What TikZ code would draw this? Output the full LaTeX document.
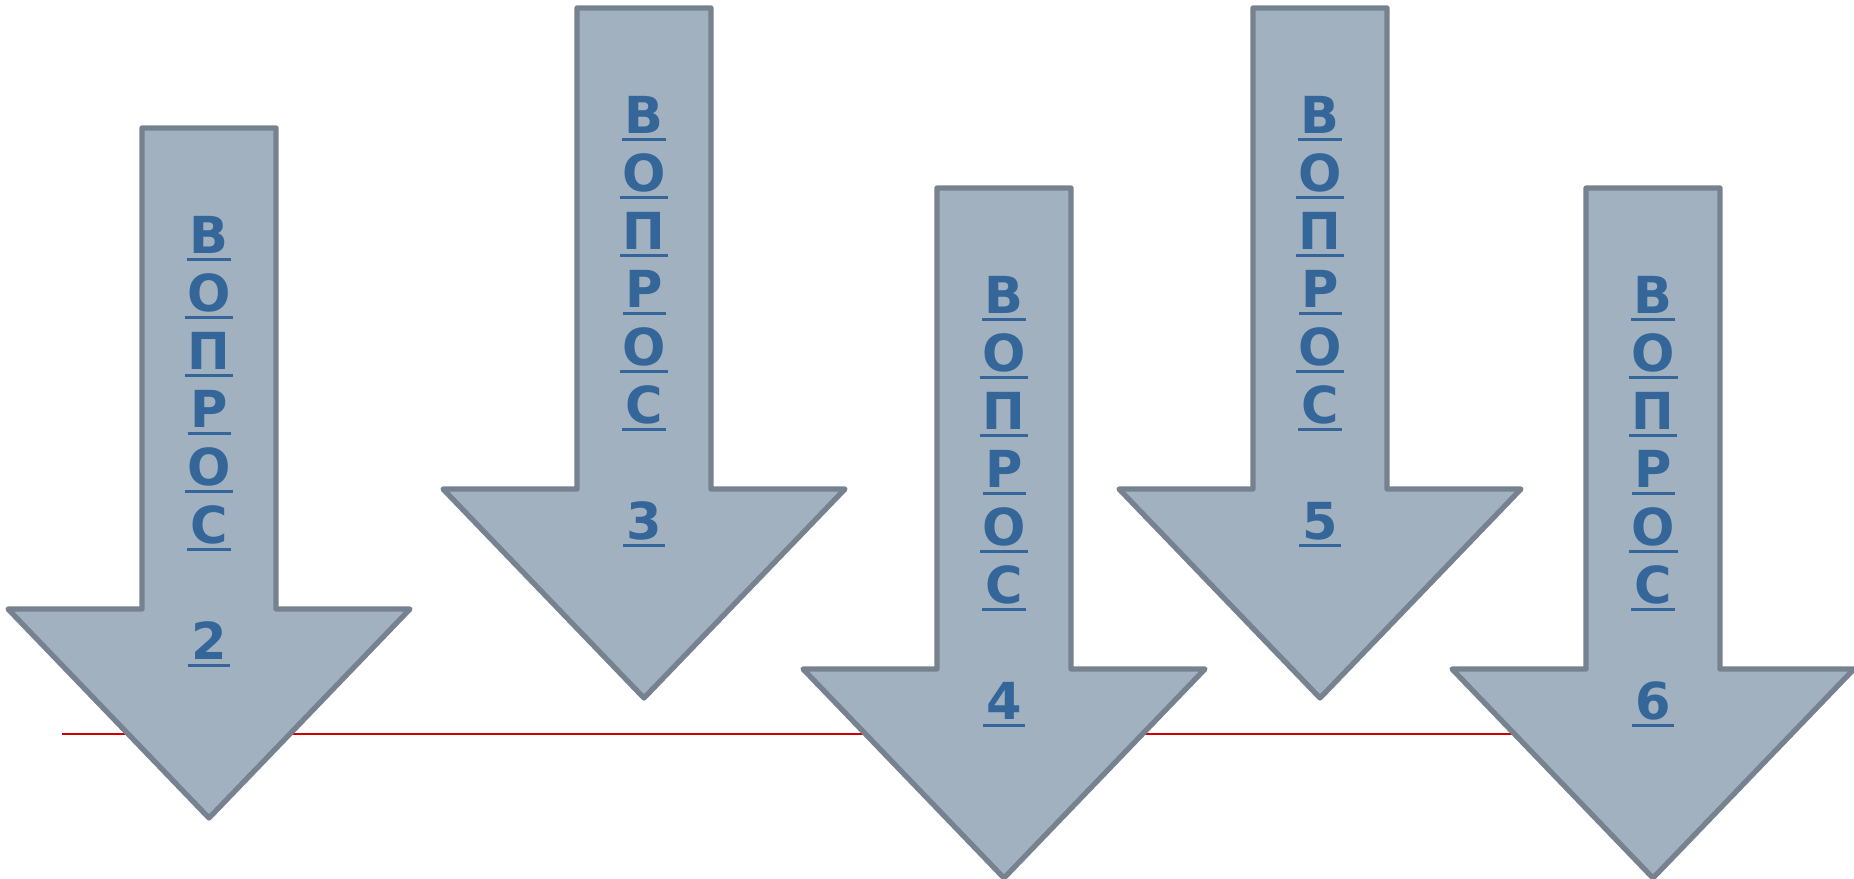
\documentclass[tikz,border=0pt]{standalone}
\usepackage{fontspec}
\setmainfont{DejaVu Sans}
\usepackage{xcolor}
\usepackage{tikz}
\definecolor{arrowfill}{RGB}{162,177,192}
\definecolor{arrowline}{RGB}{118,130,143}
\definecolor{qtext}{RGB}{52,102,153}
\definecolor{redrule}{RGB}{204,0,0}

\newcommand{\uchar}[1]{\setbox0\hbox{#1}\makebox[\wd0]{\rlap{\hspace*{-0.8pt}\rule[-2.4pt]{\dimexpr\wd0+1.6pt\relax}{1.1pt}}#1}}

\begin{document}
\begin{tikzpicture}[x=0.01cm, y=-0.01cm, line join = round, line cap = round,
  arrowbody/.style={fill=arrowfill, draw=arrowline, line width=1.5pt},
  letter/.style={text=qtext, font=\bfseries\fontsize{14.5}{17}\selectfont, anchor=base, inner sep=0pt}]
\useasboundingbox (0,0) rectangle (1854,878);

\coordinate (redstart) at (62,734);
\coordinate (redend) at (1600,734);
\draw[redrule, line width=0.7pt, line cap=butt] (redstart) -- (redend);

\foreach \cx/\ty/\num in {209/128/2, 644/8/3, 1004/188/4, 1320/8/5, 1653/188/6}{
  \draw[arrowbody] (\cx-67,\ty) -- (\cx+67,\ty) -- (\cx+67,\ty+481) -- (\cx+201,\ty+481)
    -- (\cx,\ty+690) -- (\cx-201,\ty+481) -- (\cx-67,\ty+481) -- cycle;
  \foreach \ch [count=\i] in {В,О,П,Р,О,С}
    \node[letter] (q\num-\i) at (\cx,{\ty+125+58*(\i-1)}) {\uchar{\ch}};
  \node[letter] (n\num) at (\cx,{\ty+125+58*7}) {\uchar{\num}};
}
\end{tikzpicture}
\end{document}
